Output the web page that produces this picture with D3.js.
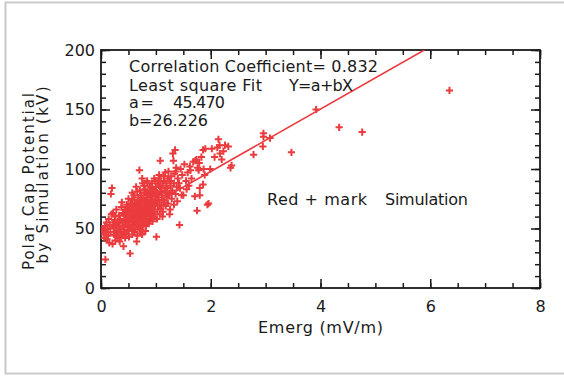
<!DOCTYPE html>
<html>
<head>
<meta charset="utf-8">
<script src="https://cdnjs.cloudflare.com/ajax/libs/d3/7.8.5/d3.min.js"></script>
<style>
  body { margin: 0; background: #fff; }
  svg { display: block; }
  text { font-family: "DejaVu Sans", sans-serif; fill: #1a1a1a; }
</style>
</head>
<body>
<div id="chart"></div>
<script>
// axis ticks
var x_ticks = [0, 2, 4, 6, 8];
var y_ticks = [0, 50, 100, 150, 200];

// least square fit printed on the chart, Y = a + bX
var fit_a = 45.470;
var fit_b = 26.226;
var corr_coef = 0.832;

// [Emerg (mV/m), Polar cap potential (kV)], estimated from the scatter
var data = [
  [0.02, 48], [0.04, 50], [0.05, 45], [0.07, 52], [0.08, 24], [0.09, 47], [0.10, 55], [0.06, 42],
  [0.12, 50], [0.13, 44], [0.14, 58], [0.15, 38], [0.16, 53], [0.17, 47], [0.18, 79], [0.19, 62], [0.20, 84], [0.11, 41],
  [0.21, 37], [0.22, 63], [0.23, 50], [0.24, 45], [0.25, 57], [0.26, 40], [0.27, 52], [0.28, 66], [0.29, 48], [0.30, 43], [0.22, 55], [0.26, 60],
  [0.31, 54], [0.32, 47], [0.33, 61], [0.34, 39], [0.35, 58], [0.36, 50], [0.37, 68], [0.38, 44], [0.39, 56], [0.40, 63], [0.33, 52], [0.36, 42], [0.38, 72],
  [0.41, 35], [0.42, 49], [0.43, 57], [0.44, 66], [0.45, 53], [0.46, 46], [0.47, 70], [0.48, 60], [0.49, 51], [0.50, 75], [0.42, 62], [0.44, 42], [0.46, 58], [0.48, 67], [0.50, 48],
  [0.51, 55], [0.52, 64], [0.53, 29], [0.54, 71], [0.55, 50], [0.56, 60], [0.57, 45], [0.58, 68], [0.59, 53], [0.60, 78], [0.51, 43], [0.53, 58], [0.55, 66], [0.57, 74], [0.58, 49], [0.60, 62], [0.52, 52], [0.56, 56],
  [0.61, 47], [0.62, 70], [0.63, 57], [0.64, 63], [0.65, 39], [0.66, 81], [0.67, 52], [0.68, 66], [0.69, 60], [0.70, 99], [0.61, 74], [0.62, 55], [0.64, 85], [0.65, 68], [0.66, 44], [0.67, 59], [0.68, 76], [0.70, 50], [0.63, 64], [0.69, 71],
  [0.71, 56], [0.72, 65], [0.73, 78], [0.74, 46], [0.75, 60], [0.76, 88], [0.77, 53], [0.78, 70], [0.79, 62], [0.80, 83], [0.71, 72], [0.72, 49], [0.74, 67], [0.75, 92], [0.76, 58], [0.77, 75], [0.78, 55], [0.79, 80], [0.80, 64], [0.73, 61], [0.75, 52], [0.78, 86],
  [0.81, 58], [0.82, 73], [0.83, 66], [0.84, 90], [0.85, 55], [0.86, 79], [0.87, 62], [0.88, 70], [0.89, 85], [0.90, 60], [0.81, 68], [0.82, 52], [0.84, 76], [0.85, 88], [0.86, 64], [0.87, 72], [0.88, 57], [0.90, 82], [0.83, 61], [0.89, 67],
  [0.91, 74], [0.92, 63], [0.93, 88], [0.94, 56], [0.95, 80], [0.96, 69], [0.97, 92], [0.98, 62], [0.99, 77], [1.00, 85], [0.91, 66], [0.93, 59], [0.94, 71], [0.96, 83], [0.97, 64], [0.99, 90], [0.92, 78], [0.98, 70],
  [1.01, 43], [1.02, 72], [1.03, 66], [1.04, 88], [1.05, 76], [1.06, 95], [1.07, 62], [1.08, 107], [1.09, 81], [1.10, 70], [1.02, 58], [1.04, 79], [1.05, 92], [1.07, 85], [1.09, 67], [1.03, 74],
  [1.11, 78], [1.12, 86], [1.13, 64], [1.14, 94], [1.15, 72], [1.16, 82], [1.17, 97], [1.18, 69], [1.19, 88], [1.20, 76], [1.12, 60], [1.15, 90], [1.18, 80], [1.14, 74],
  [1.21, 84], [1.22, 71], [1.23, 98], [1.24, 79], [1.25, 90], [1.26, 66], [1.27, 86], [1.28, 94], [1.29, 75], [1.30, 82], [1.22, 92], [1.25, 62], [1.28, 80],
  [1.31, 113], [1.32, 107], [1.33, 88], [1.34, 96], [1.35, 116], [1.36, 79], [1.37, 101], [1.38, 85], [1.39, 73], [1.40, 92], [1.33, 70], [1.36, 98],
  [1.43, 53], [1.42, 88], [1.45, 100], [1.47, 78], [1.48, 95], [1.50, 78], [1.44, 84],
  [1.52, 104], [1.55, 90], [1.58, 97], [1.60, 86], [1.62, 102], [1.65, 92], [1.68, 106], [1.56, 83], [1.63, 99],
  [1.71, 77], [1.72, 107], [1.74, 108], [1.75, 65], [1.76, 101], [1.79, 105], [1.80, 84], [1.80, 78], [1.83, 110], [1.86, 116], [1.86, 87], [1.87, 100], [1.90, 117], [1.89, 95], [1.78, 99],
  [1.94, 70], [1.96, 71], [1.99, 100], [2.02, 117], [2.07, 110], [2.14, 125], [2.16, 120], [2.17, 113], [2.20, 108], [2.23, 115], [2.26, 120], [2.32, 119], [2.38, 103], [2.36, 101], [2.12, 118],
  [2.78, 112], [2.95, 119], [2.96, 130], [2.96, 127], [3.08, 126], [3.47, 114], [3.92, 150], [4.34, 135], [4.76, 131], [6.35, 166],
  // extra points in the dense core
  [0.45, 61], [0.47, 55], [0.49, 64], [0.52, 68], [0.54, 59], [0.56, 71], [0.58, 63], [0.60, 57], [0.62, 66], [0.64, 58],
  [0.66, 72], [0.68, 62], [0.70, 68], [0.72, 60], [0.74, 74], [0.76, 66], [0.78, 63], [0.80, 72], [0.82, 80], [0.84, 64],
  [0.86, 70], [0.88, 78], [0.90, 70], [0.92, 84], [0.94, 77], [0.96, 60], [0.98, 82], [1.00, 72], [1.02, 80], [1.06, 70],
  [1.10, 84], [1.08, 90], [0.57, 80], [0.63, 50], [0.71, 82], [0.75, 45], [0.81, 48], [0.87, 54], [0.93, 67], [0.97, 73],
  [0.40, 52], [0.43, 45], [0.46, 65], [0.50, 58], [0.35, 47], [0.30, 55], [0.27, 44], [0.24, 52], [0.66, 54], [0.73, 57]
];

var chart_width = 564;
var chart_height = 376;
var plot_left = 101, plot_right = 540, plot_top = 50, plot_bottom = 288;
var red = '#ea3b3e';
var ink = '#1a1a1a';

var svg = d3.select('#chart')
  .append('svg')
  .attr('width', chart_width)
  .attr('height', chart_height);

// light grey frame round the figure (runs off the right edge)
svg.append('rect')
  .attr('x', 5.5)
  .attr('y', 2.5)
  .attr('width', 600)
  .attr('height', 371)
  .attr('fill', 'none')
  .attr('stroke', '#c9c9c9')
  .attr('stroke-width', 2);

// scales
var x_scale = d3.scaleLinear()
  .domain([0, 8])
  .range([plot_left, plot_right]);

var y_scale = d3.scaleLinear()
  .domain([0, 200])
  .range([plot_bottom, plot_top]);

// clip path for the plot area
svg.append('clipPath')
  .attr('id', 'plot-area-clip-path')
  .append('rect')
  .attr('x', plot_left)
  .attr('y', plot_top)
  .attr('width', plot_right - plot_left)
  .attr('height', plot_bottom - plot_top);

// axes: IDL style, ticks inward on all four sides
function styleAxis(g) {
  g.select('.domain').remove();
  g.attr('color', ink)
    .attr('font-size', 16)
    .attr('font-family', '"DejaVu Sans", sans-serif');
  g.selectAll('line').attr('stroke-width', 1.5);
}

var x_minor = d3.range(0, 8.01, 0.5);
var y_minor = d3.range(0, 200.1, 10);

// bottom
svg.append('g')
  .attr('transform', 'translate(0,' + plot_bottom + ')')
  .call(d3.axisBottom(x_scale).tickValues(x_minor).tickFormat('').tickSize(-5).tickSizeOuter(0))
  .call(styleAxis);
svg.append('g')
  .attr('class', 'x-axis')
  .attr('transform', 'translate(0,' + plot_bottom + ')')
  .call(d3.axisBottom(x_scale).tickValues(x_ticks).tickFormat(d3.format('d')).tickSize(-9).tickSizeOuter(0).tickPadding(13))
  .call(styleAxis);
// top
svg.append('g')
  .attr('transform', 'translate(0,' + plot_top + ')')
  .call(d3.axisTop(x_scale).tickValues(x_minor).tickFormat('').tickSize(-5).tickSizeOuter(0))
  .call(styleAxis);
svg.append('g')
  .attr('transform', 'translate(0,' + plot_top + ')')
  .call(d3.axisTop(x_scale).tickValues(x_ticks).tickFormat('').tickSize(-9).tickSizeOuter(0))
  .call(styleAxis);
// left
svg.append('g')
  .attr('transform', 'translate(' + plot_left + ',0)')
  .call(d3.axisLeft(y_scale).tickValues(y_minor).tickFormat('').tickSize(-5).tickSizeOuter(0))
  .call(styleAxis);
svg.append('g')
  .attr('class', 'y-axis')
  .attr('transform', 'translate(' + plot_left + ',0)')
  .call(d3.axisLeft(y_scale).tickValues(y_ticks).tickFormat(d3.format('d')).tickSize(-9).tickSizeOuter(0).tickPadding(6))
  .call(styleAxis);
// right
svg.append('g')
  .attr('transform', 'translate(' + plot_right + ',0)')
  .call(d3.axisRight(y_scale).tickValues(y_minor).tickFormat('').tickSize(-5).tickSizeOuter(0))
  .call(styleAxis);
svg.append('g')
  .attr('transform', 'translate(' + plot_right + ',0)')
  .call(d3.axisRight(y_scale).tickValues(y_ticks).tickFormat('').tickSize(-9).tickSizeOuter(0))
  .call(styleAxis);

// plot frame
svg.append('rect')
  .attr('x', plot_left)
  .attr('y', plot_top)
  .attr('width', plot_right - plot_left)
  .attr('height', plot_bottom - plot_top)
  .attr('fill', 'none')
  .attr('stroke', ink)
  .attr('stroke-width', 1.8);

var plot_area = svg.append('g')
  .attr('id', 'plot-area')
  .attr('clip-path', 'url(#plot-area-clip-path)');

// fit line, from x=0 until it leaves the top of the box
var x_end = (200 - fit_a) / fit_b;
plot_area.append('line')
  .attr('x1', x_scale(0))
  .attr('y1', y_scale(fit_a))
  .attr('x2', x_scale(x_end))
  .attr('y2', y_scale(fit_a + fit_b * x_end))
  .attr('stroke', red)
  .attr('stroke-width', 1.6);

// "+" marks
plot_area.append('g')
  .selectAll('path')
  .data(data)
  .enter()
  .append('path')
  .attr('d', function(d) {
    var px = x_scale(d[0]), py = y_scale(d[1]);
    return 'M' + (px - 3.6) + ',' + py + 'h7.2M' + px + ',' + (py - 3.6) + 'v7.2';
  })
  .attr('stroke', red)
  .attr('stroke-width', 2)
  .attr('fill', 'none');

// annotation text
var notes = [
  {text: 'Correlation Coefficient= ' + corr_coef.toFixed(3), x: 129, y: 72, len: 249},
  {text: 'Least square Fit', x: 129, y: 90.5, len: 133},
  {text: 'Y=a+bX', x: 289, y: 90.5, len: 64},
  {text: 'a=', x: 129, y: 108, len: 25},
  {text: fit_a.toFixed(3), x: 173, y: 108, len: 52},
  {text: 'b=' + fit_b.toFixed(3), x: 129, y: 126, len: 79},
  {text: 'Red + mark', x: 267, y: 205, len: 100},
  {text: 'Simulation', x: 385, y: 205, len: 83}
];
svg.append('g')
  .selectAll('text')
  .data(notes)
  .enter()
  .append('text')
  .text(function(d) { return d.text; })
  .attr('x', function(d) { return d.x; })
  .attr('y', function(d) { return d.y; })
  .attr('textLength', function(d) { return d.len; })
  .attr('lengthAdjust', 'spacing')
  .attr('font-size', 16);

// axis titles
svg.append('text')
  .text('Emerg (mV/m)')
  .attr('x', 258)
  .attr('y', 333)
  .attr('textLength', 125)
  .attr('lengthAdjust', 'spacing')
  .attr('font-size', 16);

svg.append('text')
  .text('Polar Cap Potential')
  .attr('transform', 'translate(33.5,181.5) rotate(-90)')
  .attr('text-anchor', 'middle')
  .attr('textLength', 177)
  .attr('lengthAdjust', 'spacing')
  .attr('font-size', 15);

svg.append('text')
  .text('by Simulation (kV)')
  .attr('transform', 'translate(47.5,175) rotate(-90)')
  .attr('text-anchor', 'middle')
  .attr('textLength', 177)
  .attr('lengthAdjust', 'spacing')
  .attr('font-size', 15);
</script>
</body>
</html>
